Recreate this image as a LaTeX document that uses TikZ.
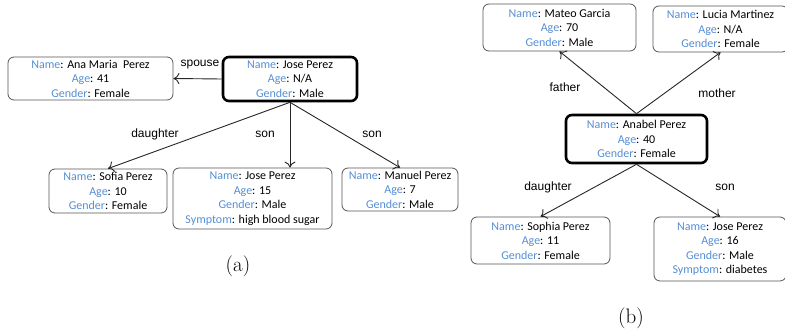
\documentclass[tikz,border=0pt]{standalone}
\usepackage{fontspec}
\newfontfamily\boxfont{Carlito}
\newfontfamily\lblfont{Liberation Sans}
\usetikzlibrary{arrows.meta}
\definecolor{keyblue}{RGB}{85,142,213}
\definecolor{boxgray}{RGB}{85,85,85}
\newcommand{\kv}[2]{\textcolor{keyblue}{#1}: #2}
\begin{document}
\begin{tikzpicture}[x=1pt,y=-1pt,
  person/.style={draw=boxgray, line width=0.8pt, rounded corners=6pt, align=center,
    inner sep=0pt, font=\boxfont\fontsize{12}{14.5}\selectfont},
  focus/.style={person, draw=black, line width=2.6pt},
  rel/.style={font=\lblfont\fontsize{12}{14}\selectfont, inner sep=0pt},
  arr/.style={draw=black!85, line width=0.9pt, -{To[length=6pt,width=11pt]}},
  captext/.style={font=\fontsize{21}{25}\selectfont, inner sep=0pt}]
\path[use as bounding box, clip] (0,0) rectangle (785,329);

% ---------- (a) ----------
\node[focus, minimum width=134pt, minimum height=44pt] (rootA) at (290,79)
  {\kv{Name}{Jose Perez}\\ \kv{Age}{N/A}\\ \kv{Gender}{Male}};
\node[person, minimum width=165pt, minimum height=43pt] (ana) at (90.5,78.5)
  {\kv{Name}{Ana Maria~ Perez}\\ \kv{Age}{41}\\ \kv{Gender}{Female}};
\node[person, minimum width=118pt, minimum height=44pt] (sofia) at (108,191)
  {\kv{Name}{Sofia Perez}\\ \kv{Age}{10}\\ \kv{Gender}{Female}};
\node[person, minimum width=159pt, minimum height=61pt] (joseA) at (252.5,198.5)
  {\kv{Name}{Jose Perez}\\ \kv{Age}{15}\\ \kv{Gender}{Male}\\ \kv{Symptom}{high blood sugar}};
\node[person, minimum width=116pt, minimum height=43pt] (manuel) at (400,189.5)
  {\kv{Name}{Manuel Perez}\\ \kv{Age}{7}\\ \kv{Gender}{Male}};

\draw[arr] (rootA.west) -- (ana.east);
\draw[arr] (rootA.south) -- (sofia.north);
\draw[arr] (rootA.south) -- (rootA.south |- joseA.north);
\draw[arr] (rootA.south) -- (manuel.north);

\node[rel] (lspouse) at (200,65) {spouse};
\node[rel] (ldaughterA) at (155,134) {daughter};
\node[rel] (lsonA1) at (265,134) {son};
\node[rel] (lsonA2) at (372,134) {son};

\node[captext] (capa) at (238,266) {(a)};

% ---------- (b) ----------
\node[focus, minimum width=141pt, minimum height=48pt] (anabel) at (636.5,139)
  {\kv{Name}{Anabel Perez}\\ \kv{Age}{40}\\ \kv{Gender}{Female}};
\node[person, minimum width=153pt, minimum height=47pt] (mateo) at (559.5,27.5)
  {\kv{Name}{Mateo Garcia}\\ \kv{Age}{70}\\ \kv{Gender}{Male}};
\node[person, minimum width=135pt, minimum height=46pt] (lucia) at (720.5,29)
  {\kv{Name}{Lucia Martinez}\\ \kv{Age}{N/A}\\ \kv{Gender}{Female}};
\node[person, minimum width=139pt, minimum height=47pt] (sophia) at (540.5,240.5)
  {\kv{Name}{Sophia Perez}\\ \kv{Age}{11}\\ \kv{Gender}{Female}};
\node[person, minimum width=132pt, minimum height=64pt] (joseB) at (720,249)
  {\kv{Name}{Jose Perez}\\ \kv{Age}{16}\\ \kv{Gender}{Male}\\ \kv{Symptom}{diabetes}};

\draw[arr] (anabel.north) -- (mateo.south);
\draw[arr] (anabel.north) -- (lucia.south);
\draw[arr] (anabel.south) -- (sophia.north);
\draw[arr] (anabel.south) -- (joseB.north);

\node[rel] (lfather) at (565,87) {father};
\node[rel] (lmother) at (717,93) {mother};
\node[rel] (ldaughterB) at (548,187) {daughter};
\node[rel] (lsonB) at (725,187) {son};

\node[captext] (capb) at (631,318) {(b)};
\end{tikzpicture}
\end{document}
